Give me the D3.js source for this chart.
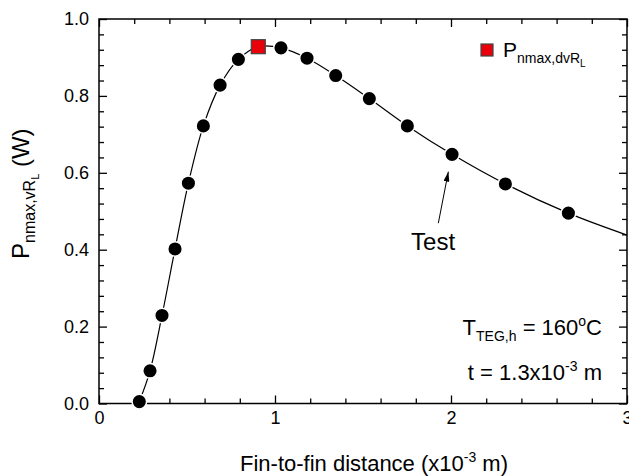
<!DOCTYPE html>
<html><head><meta charset="utf-8">
<script src="https://cdn.jsdelivr.net/npm/d3@7"></script>
<style>body{margin:0;background:#fff} text{font-family:"Liberation Sans",Arial,sans-serif;fill:#000}</style>
</head><body><svg id="c" width="629" height="476"></svg>
<script>
// Data
const distance = [0.229,0.290,0.358,0.432,0.508,0.593,0.688,0.792,1.034,1.182,1.345,1.536,1.752,2.006,2.309,2.667];
const power    = [0.005,0.085,0.229,0.402,0.573,0.722,0.828,0.895,0.925,0.898,0.853,0.793,0.722,0.648,0.571,0.495];
const maxDistance = [0.905];
const maxPower    = [0.928];
const curveEndDistance = [3.0];
const curveEndPower    = [0.438];
const xMajorTicks = [0,1,2,3];
const yMajorTicks = [0,0.2,0.4,0.6,0.8,1.0];
// annotation "Test": arrow tail, arrow tip, label anchor (data units)
const testArrow = {tailX:1.928, tailY:0.469, tipX:1.985, tipY:0.603, labelX:1.898, labelY:0.399};

const svg = d3.select("#c");
const x = d3.scaleLinear().domain([0,3]).range([99,627]);
const y = d3.scaleLinear().domain([0,1]).range([403.5,19]);

const xMinor = d3.range(0,3.001,0.2).filter(v=>Math.abs(v-Math.round(v))>1e-6);
const yMinor = d3.range(0,1.001,0.04).filter(v=>Math.abs(v*5-Math.round(v*5))>1e-6);

function styleAxis(g){ g.select(".domain").remove(); g.selectAll("line").attr("stroke","#000").attr("stroke-width",1.3); g.selectAll("text").attr("font-size",18).attr("font-family","Liberation Sans, Arial, sans-serif"); }

svg.append("g").attr("transform",`translate(0,${y(0)})`)
  .call(d3.axisBottom(x).tickValues(xMajorTicks).tickSize(-8).tickPadding(8).tickFormat(d3.format("d"))).call(styleAxis);
svg.append("g").attr("transform",`translate(0,${y(0)})`)
  .call(d3.axisBottom(x).tickValues(xMinor).tickSize(-5).tickFormat("")).call(styleAxis);
svg.append("g").attr("transform",`translate(0,${y(1)})`)
  .call(d3.axisTop(x).tickValues(xMajorTicks).tickSize(-8).tickFormat("")).call(styleAxis);
svg.append("g").attr("transform",`translate(0,${y(1)})`)
  .call(d3.axisTop(x).tickValues(xMinor).tickSize(-5).tickFormat("")).call(styleAxis);
svg.append("g").attr("transform",`translate(${x(0)},0)`)
  .call(d3.axisLeft(y).tickValues(yMajorTicks).tickSize(-8).tickPadding(10).tickFormat(d3.format(".1f"))).call(styleAxis);
svg.append("g").attr("transform",`translate(${x(0)},0)`)
  .call(d3.axisLeft(y).tickValues(yMinor).tickSize(-5).tickFormat("")).call(styleAxis);
svg.append("g").attr("transform",`translate(${x(3)},0)`)
  .call(d3.axisRight(y).tickValues(yMajorTicks).tickSize(-8).tickFormat("")).call(styleAxis);
svg.append("g").attr("transform",`translate(${x(3)},0)`)
  .call(d3.axisRight(y).tickValues(yMinor).tickSize(-5).tickFormat("")).call(styleAxis);

svg.append("rect").attr("x",x(0)).attr("y",y(1)).attr("width",x(3)-x(0)).attr("height",y(0)-y(1))
  .attr("fill","none").attr("stroke","#000").attr("stroke-width",1.5);

// curve
const pts = distance.map((d,i)=>[d,power[i]])
  .concat(maxDistance.map((d,i)=>[d,maxPower[i]]))
  .concat(curveEndDistance.map((d,i)=>[d,curveEndPower[i]]))
  .sort((a,b)=>a[0]-b[0]);
svg.append("path").datum(pts)
  .attr("d", d3.line().x(d=>x(d[0])).y(d=>y(d[1])).curve(d3.curveCatmullRom.alpha(0.5)))
  .attr("fill","none").attr("stroke","#000").attr("stroke-width",1.2);

svg.append("g").selectAll("circle").data(distance).join("circle")
  .attr("cx",d=>x(d)).attr("cy",(d,i)=>y(power[i])).attr("r",7.3)
  .attr("fill","#000").attr("stroke","#fff").attr("stroke-width",1.5);

svg.append("g").selectAll("rect").data(maxDistance).join("rect")
  .attr("x",d=>x(d)-7).attr("y",(d,i)=>y(maxPower[i])-7).attr("width",14).attr("height",14)
  .attr("fill","#e8000b").attr("stroke","#444").attr("stroke-width",1.2);

// legend
svg.append("rect").attr("x",481).attr("y",44).attr("width",12).attr("height",12)
  .attr("fill","#e8000b").attr("stroke","#444").attr("stroke-width",1.2);
const lg = svg.append("text").attr("x",503).attr("y",57).attr("font-size",21);
lg.append("tspan").text("P");
lg.append("tspan").attr("font-size",14).attr("dy",6).text("nmax,dvR");
lg.append("tspan").attr("font-size",10).attr("dy",4).text("L");

// arrow annotation
svg.append("defs").append("marker").attr("id","ah").attr("viewBox","0 0 10 6").attr("refX",10).attr("refY",3)
  .attr("markerWidth",10).attr("markerHeight",6).attr("markerUnits","userSpaceOnUse").attr("orient","auto")
  .append("path").attr("d","M0,0 L10,3 L0,6 Z").attr("fill","#000");
svg.append("line").attr("x1",x(testArrow.tailX)).attr("y1",y(testArrow.tailY))
  .attr("x2",x(testArrow.tipX)).attr("y2",y(testArrow.tipY))
  .attr("stroke","#000").attr("stroke-width",1).attr("marker-end","url(#ah)");
svg.append("text").attr("x",x(testArrow.labelX)).attr("y",y(testArrow.labelY)).attr("text-anchor","middle")
  .attr("font-size",24).text("Test");

// condition labels
const t1 = svg.append("text").attr("x",602).attr("y",335).attr("text-anchor","end").attr("font-size",22);
t1.append("tspan").text("T");
t1.append("tspan").attr("font-size",14).attr("dy",6).text("TEG,h");
t1.append("tspan").attr("dy",-6).text(" = 160");
t1.append("tspan").attr("font-size",14).attr("dy",-9).text("o");
t1.append("tspan").attr("dy",9).text("C");
const t2 = svg.append("text").attr("x",602).attr("y",380).attr("text-anchor","end").attr("font-size",22);
t2.append("tspan").text("t = 1.3x10");
t2.append("tspan").attr("font-size",14).attr("dy",-9).text("-3");
t2.append("tspan").attr("dy",9).text(" m");

// axis titles
const xt = svg.append("text").attr("x",374).attr("y",471).attr("text-anchor","middle").attr("font-size",22);
xt.append("tspan").text("Fin-to-fin distance (x10");
xt.append("tspan").attr("font-size",14).attr("dy",-9).text("-3");
xt.append("tspan").attr("dy",9).text(" m)");

const yt = svg.append("text").attr("transform","translate(29,259) rotate(-90)").attr("font-size",24);
yt.append("tspan").text("P");
yt.append("tspan").attr("font-size",16).attr("dy",6).text("nmax,vR");
yt.append("tspan").attr("font-size",11).attr("dy",4).text("L");
yt.append("tspan").attr("dy",-10).text(" (W)");
</script></body></html>
